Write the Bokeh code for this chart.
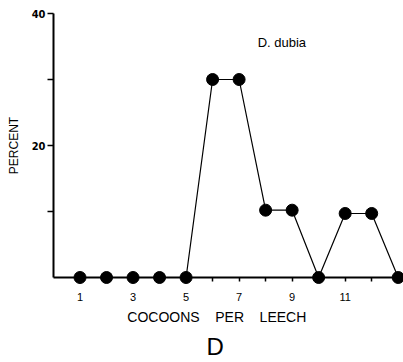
from bokeh.plotting import figure
from bokeh.models import Range1d, FixedTicker, Label, Title
from bokeh.embed import file_html
from bokeh.resources import INLINE

cocoons = [1, 2, 3, 4, 5, 6, 7, 8, 9, 10, 11, 12, 13]
percent = [0, 0, 0, 0, 0, 30, 30, 10.2, 10.2, 0, 9.7, 9.7, 0]
x_major = [1, 3, 5, 7, 9, 11]
x_minor = [2, 4, 6, 8, 10, 12]
y_major = [20, 40]
y_minor = [10, 30]

p = figure(width=403, height=362, output_backend="svg", toolbar_location=None,
           x_range=Range1d(0, 13.2), y_range=Range1d(0, 40),
           min_border_left=53, min_border_right=0, min_border_top=13, min_border_bottom=0)
p.grid.visible = False
p.outline_line_color = None
p.background_fill_color = "white"
p.border_fill_color = "white"

ln = p.line(cocoons, percent, line_color="black", line_width=1.2)
sc = p.scatter(cocoons, percent, size=12, color="black")
ln.level = "overlay"
sc.level = "overlay"

xa = p.xaxis[0]
xa.ticker = FixedTicker(ticks=x_major, minor_ticks=x_minor)
xa.axis_line_width = 2
xa.axis_line_color = "black"
xa.major_tick_in = 0
xa.major_tick_out = 4
xa.minor_tick_in = 0
xa.minor_tick_out = 4
xa.major_tick_line_width = 1.5
xa.minor_tick_line_width = 1.5
xa.major_label_standoff = 11
xa.major_label_text_font = "Liberation Sans"
xa.major_label_text_font_size = "11px"
xa.major_label_text_color = "black"
xa.axis_label = "COCOONS\u00a0\u00a0\u00a0\u00a0PER\u00a0\u00a0\u00a0\u00a0LEECH" + "\u00a0" * 6
xa.axis_label_text_font = "Liberation Sans"
xa.axis_label_text_font_size = "14px"
xa.axis_label_text_font_style = "normal"
xa.axis_label_text_color = "black"
xa.axis_label_standoff = 5

ya = p.yaxis[0]
ya.ticker = FixedTicker(ticks=y_major, minor_ticks=y_minor)
ya.axis_line_width = 2
ya.axis_line_color = "black"
ya.major_tick_in = 0
ya.major_tick_out = 6
ya.minor_tick_in = 0
ya.minor_tick_out = 6
ya.major_tick_line_width = 1.5
ya.minor_tick_line_width = 1.5
ya.major_label_standoff = 2
ya.major_label_text_font = "DejaVu Sans Condensed"
ya.major_label_text_font_style = "bold"
ya.major_label_text_font_size = "11px"
ya.major_label_text_color = "black"
ya.axis_label = "PERCENT"
ya.axis_label_text_font = "Liberation Sans"
ya.axis_label_text_font_size = "12px"
ya.axis_label_text_font_style = "normal"
ya.axis_label_text_color = "black"
ya.axis_label_standoff = 8

p.add_layout(Label(x=7.7, y=35.6, text="D.  dubia", text_font="Liberation Sans",
                   text_font_size="13px", text_baseline="middle", text_color="black"))
p.add_layout(Title(text="D" + "\u00a0" * 4, align="center", text_font="Liberation Sans",
                   text_font_size="24px", text_font_style="normal", text_color="black",
                   standoff=6), "below")

open("out.html", "w").write(file_html(p, INLINE))
